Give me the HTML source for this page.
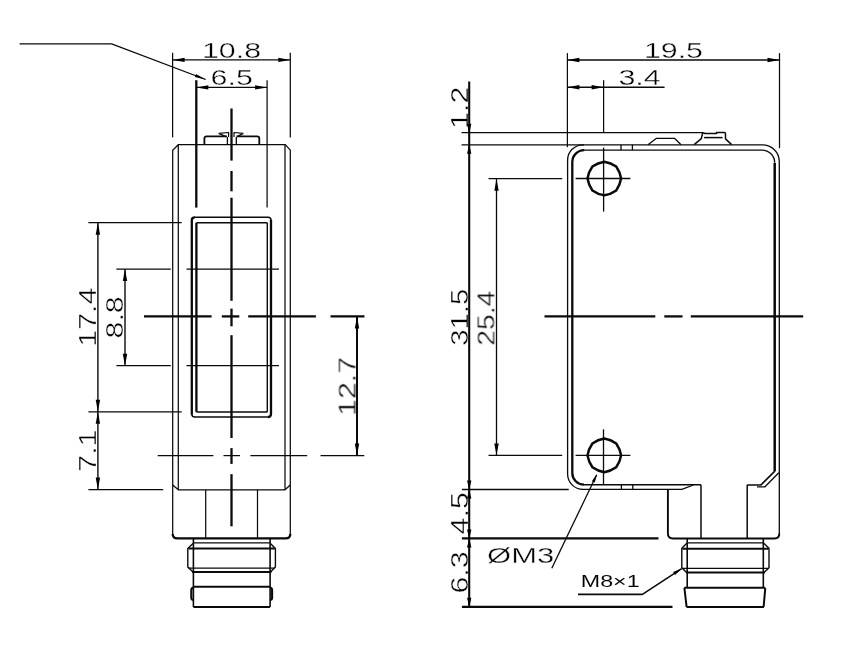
<!DOCTYPE html>
<html><head><meta charset="utf-8"><title>Dimension drawing</title>
<style>
html,body{margin:0;padding:0;background:#fff;}
svg{display:block;}
.g line,.g path,.g circle{stroke:#0a0a0a;fill:none;stroke-linecap:butt;stroke-linejoin:round;}
.t{opacity:0.999}
.t text{font-family:"Liberation Sans",sans-serif;fill:#000;stroke:#fff;paint-order:fill stroke;}
</style></head><body>
<svg width="845" height="645" viewBox="0 0 845 645">
<rect width="845" height="645" fill="#fff"/>
<g class="t">
<text transform="translate(231.5,58.2) scale(1.38,1)" font-size="22" text-anchor="middle" stroke-width="0.35">10.8</text>
<text transform="translate(231.7,85.2) scale(1.38,1)" font-size="22" text-anchor="middle" stroke-width="0.35">6.5</text>
<text transform="translate(96,317.2) rotate(-90) scale(1.38,1.05)" font-size="22" text-anchor="middle" stroke-width="0.35">17.4</text>
<text transform="translate(123,317.4) rotate(-90) scale(1.38,1.05)" font-size="22" text-anchor="middle" stroke-width="0.35">8.8</text>
<text transform="translate(96,450.6) rotate(-90) scale(1.38,1.05)" font-size="22" text-anchor="middle" stroke-width="0.35">7.1</text>
<text transform="translate(355.8,386.4) rotate(-90) scale(1.38,1.05)" font-size="22" text-anchor="middle" stroke-width="0.35">12.7</text>
<text transform="translate(673.4,58.4) scale(1.38,1)" font-size="22" text-anchor="middle" stroke-width="0.35">19.5</text>
<text transform="translate(639.5,85.3) scale(1.38,1)" font-size="22" text-anchor="middle" stroke-width="0.35">3.4</text>
<text transform="translate(468,107.8) rotate(-90) scale(1.38,1.05)" font-size="22" text-anchor="middle" stroke-width="0.35">1.2</text>
<text transform="translate(468,317.2) rotate(-90) scale(1.33,1.05)" font-size="22" text-anchor="middle" stroke-width="0.35">31.5</text>
<text transform="translate(468,513.3) rotate(-90) scale(1.38,1.05)" font-size="22" text-anchor="middle" stroke-width="0.35">4.5</text>
<text transform="translate(468,572.5) rotate(-90) scale(1.38,1.05)" font-size="22" text-anchor="middle" stroke-width="0.35">6.3</text>
<text transform="translate(494.6,318.2) rotate(-90) scale(1.28,1.05)" font-size="22" text-anchor="middle" stroke-width="0.35">25.4</text>
<text transform="translate(520.7,563.2) scale(1.41,1)" font-size="22" text-anchor="middle" stroke-width="0.35">ØM3</text>
<text transform="translate(610.2,587.2) scale(1.37,1)" font-size="17" text-anchor="middle" stroke-width="0.05">M8×1</text>
</g>
<g class="g">
<path d="M19.6,43.8 H111.6 L205.7,79.5" stroke-width="1.3" />
<polygon points="205.7,79.5 194.8,77.1 196.0,74.1" fill="#000" stroke="none" />
<line x1="172.6" y1="52.8" x2="172.6" y2="137.4" stroke-width="1.25" />
<line x1="290.3" y1="52.8" x2="290.3" y2="137.4" stroke-width="1.25" />
<line x1="172.6" y1="59.9" x2="290.3" y2="59.9" stroke-width="1.4" />
<polygon points="172.6,59.9 184.6,57.7 184.6,62.1" fill="#000" stroke="none" />
<polygon points="290.3,59.9 278.3,62.1 278.3,57.7" fill="#000" stroke="none" />
<line x1="196.3" y1="80.2" x2="196.3" y2="207.6" stroke-width="2.3" />
<line x1="267.1" y1="80.2" x2="267.1" y2="207.6" stroke-width="1.25" />
<line x1="196.3" y1="87.4" x2="267.1" y2="87.4" stroke-width="1.4" />
<polygon points="196.3,87.4 208.3,85.2 208.3,89.6" fill="#000" stroke="none" />
<polygon points="267.1,87.4 255.1,89.6 255.1,85.2" fill="#000" stroke="none" />
<line x1="231.5" y1="108.5" x2="231.5" y2="160.6" stroke-width="2.3" />
<line x1="231.5" y1="171" x2="231.5" y2="191.3" stroke-width="2.3" />
<line x1="231.5" y1="197.7" x2="231.5" y2="300.8" stroke-width="2.3" />
<line x1="231.5" y1="308.6" x2="231.5" y2="326.3" stroke-width="2.3" />
<line x1="231.5" y1="335.2" x2="231.5" y2="438" stroke-width="2.3" />
<line x1="231.5" y1="448.1" x2="231.5" y2="463.9" stroke-width="2.3" />
<line x1="231.5" y1="474.2" x2="231.5" y2="526.3" stroke-width="2.3" />
<line x1="144" y1="316.4" x2="211.6" y2="316.4" stroke-width="2.3" />
<line x1="221.8" y1="316.4" x2="239.3" y2="316.4" stroke-width="2.3" />
<line x1="248.2" y1="316.4" x2="315.9" y2="316.4" stroke-width="2.3" />
<line x1="330.5" y1="316.4" x2="364.5" y2="316.4" stroke-width="2.3" />
<line x1="157.7" y1="455.6" x2="213.4" y2="455.6" stroke-width="1.25" />
<line x1="223.5" y1="455.6" x2="240" y2="455.6" stroke-width="1.25" />
<line x1="250.4" y1="455.6" x2="307.2" y2="455.6" stroke-width="1.25" />
<line x1="320.5" y1="455.6" x2="364.3" y2="455.6" stroke-width="1.25" />
<path d="M172.7,534.5 V150.2 L178.3,144.7 H285.3 L290.3,150.2 V534.5" stroke-width="1.25" />
<line x1="178.3" y1="144.7" x2="178.3" y2="489.8" stroke-width="1.25" />
<line x1="285.0" y1="144.7" x2="285.0" y2="489.8" stroke-width="1.25" />
<path d="M172.7,485 L178.3,489.8 H285 L290.3,485" stroke-width="1.3" />
<path d="M172.7,534 Q172.7,538.4 177.5,538.4 H285.5 Q290.3,538.4 290.3,534" stroke-width="2.3" />
<line x1="205.7" y1="489.8" x2="205.7" y2="538.4" stroke-width="1.25" />
<line x1="257.5" y1="489.8" x2="257.5" y2="538.4" stroke-width="1.25" />
<path d="M191.8,414.5 V220.3 Q191.8,217.3 194.8,217.3" stroke-width="2.3" />
<path d="M194.3,217.3 H268 Q271,217.3 271,220.3" stroke-width="1.5" />
<path d="M271,220 V414 Q271,417 268,417" stroke-width="2.3" />
<path d="M268.5,417 H194.8 Q191.8,417 191.8,414" stroke-width="1.5" />
<line x1="196.4" y1="222.8" x2="196.4" y2="411.9" stroke-width="2.3" />
<line x1="267.3" y1="222.8" x2="267.3" y2="411.9" stroke-width="1.4" />
<line x1="196.4" y1="222.8" x2="267.3" y2="222.8" stroke-width="1.5" />
<line x1="196.4" y1="411.9" x2="267.3" y2="411.9" stroke-width="1.5" />
<line x1="88.4" y1="222.7" x2="181.7" y2="222.7" stroke-width="1.25" />
<line x1="88.4" y1="411.8" x2="181.7" y2="411.8" stroke-width="1.25" />
<line x1="97.9" y1="222.7" x2="97.9" y2="489.6" stroke-width="1.4" />
<polygon points="97.9,222.7 100.1,234.7 95.7,234.7" fill="#000" stroke="none" />
<polygon points="97.9,411.8 95.7,399.8 100.1,399.8" fill="#000" stroke="none" />
<polygon points="97.9,411.8 100.1,423.8 95.7,423.8" fill="#000" stroke="none" />
<polygon points="97.9,489.6 95.7,477.6 100.1,477.6" fill="#000" stroke="none" />
<line x1="116.4" y1="269.1" x2="170.8" y2="269.1" stroke-width="1.25" />
<line x1="116.4" y1="365.7" x2="170.8" y2="365.7" stroke-width="1.25" />
<line x1="186.5" y1="269.1" x2="279" y2="269.1" stroke-width="1.25" />
<line x1="186.5" y1="365.7" x2="279" y2="365.7" stroke-width="1.25" />
<line x1="125" y1="269.1" x2="125" y2="365.7" stroke-width="1.4" />
<polygon points="125.0,269.1 127.2,281.1 122.8,281.1" fill="#000" stroke="none" />
<polygon points="125.0,365.7 122.8,353.7 127.2,353.7" fill="#000" stroke="none" />
<line x1="88.4" y1="489.6" x2="163.2" y2="489.6" stroke-width="1.25" />
<line x1="357" y1="316.4" x2="357" y2="455.6" stroke-width="2.0" />
<polygon points="357.0,316.4 359.2,328.4 354.8,328.4" fill="#000" stroke="none" />
<polygon points="357.0,455.6 354.8,443.6 359.2,443.6" fill="#000" stroke="none" />
<path d="M204.4,144.5 V138.6 Q204.4,136.4 206.6,136.4 H227 M236.5,136.4 H257 Q259.3,136.4 259.3,138.6 V144.5" stroke-width="1.8" />
<line x1="227.4" y1="137" x2="227.4" y2="144.5" stroke-width="1.3" />
<line x1="236.3" y1="137" x2="236.3" y2="144.5" stroke-width="1.3" />
<path d="M218.6,133.4 L228.6,132.5 V137 M218.6,133.4 L226,136.6 M243.4,133.4 L234,132.5 V137 M243.4,133.4 L237,136.6" stroke-width="1.2" />
<line x1="193.4" y1="538.4" x2="193.4" y2="606.9" stroke-width="1.6" />
<line x1="270.1" y1="538.4" x2="270.1" y2="606.9" stroke-width="1.6" />
<line x1="193.4" y1="542.8" x2="270.1" y2="542.8" stroke-width="1.2" />
<path d="M193,543.4 L187.8,548.4 V567 L193,572 M270.4,543.4 L275.4,548.4 V567 L270.4,572" stroke-width="1.4" />
<line x1="188.5" y1="548.4" x2="274.8" y2="548.4" stroke-width="2.0" />
<line x1="188.5" y1="568.2" x2="274.8" y2="568.2" stroke-width="1.2" />
<line x1="192" y1="571.9" x2="271.5" y2="571.9" stroke-width="2.0" />
<line x1="193.4" y1="586.8" x2="270.1" y2="586.8" stroke-width="2.0" />
<path d="M193.4,587.5 Q191.3,588 191.3,590 V598 Q191.5,600 193.4,600 M270.1,587.5 Q272.1,588 272.1,590 V598 Q272,600 270.1,600" stroke-width="2.1" />
<line x1="193.4" y1="606.9" x2="270.1" y2="606.9" stroke-width="2.0" />
<line x1="567.4" y1="53.1" x2="567.4" y2="147.2" stroke-width="1.25" />
<line x1="779.5" y1="53.1" x2="779.5" y2="148.2" stroke-width="1.25" />
<line x1="567.4" y1="60" x2="779.5" y2="60" stroke-width="1.4" />
<polygon points="567.4,60.0 579.4,57.8 579.4,62.2" fill="#000" stroke="none" />
<polygon points="779.5,60.0 767.5,62.2 767.5,57.8" fill="#000" stroke="none" />
<line x1="603.6" y1="80.2" x2="603.6" y2="132.3" stroke-width="1.25" />
<line x1="567.4" y1="87.3" x2="664.6" y2="87.3" stroke-width="1.4" />
<polygon points="567.4,87.3 579.4,85.1 579.4,89.5" fill="#000" stroke="none" />
<polygon points="603.6,87.3 591.6,89.5 591.6,85.1" fill="#000" stroke="none" />
<line x1="469.2" y1="81.4" x2="469.2" y2="606.7" stroke-width="2.1" />
<line x1="461.5" y1="132.7" x2="702.7" y2="132.7" stroke-width="1.3" />
<line x1="461.5" y1="144.8" x2="584" y2="144.8" stroke-width="1.3" />
<line x1="461.9" y1="489.5" x2="568.7" y2="489.5" stroke-width="1.3" />
<line x1="461.9" y1="538.4" x2="658.5" y2="538.4" stroke-width="2.3" />
<line x1="461.9" y1="606.8" x2="672.5" y2="606.8" stroke-width="2.3" />
<polygon points="469.2,132.7 467.0,123.7 471.4,123.7" fill="#000" stroke="none" />
<polygon points="469.2,144.8 471.4,153.8 467.0,153.8" fill="#000" stroke="none" />
<polygon points="469.2,489.5 467.0,480.5 471.4,480.5" fill="#000" stroke="none" />
<polygon points="469.2,489.5 471.4,498.5 467.0,498.5" fill="#000" stroke="none" />
<polygon points="469.2,538.4 467.0,529.4 471.4,529.4" fill="#000" stroke="none" />
<polygon points="469.2,538.4 471.4,547.4 467.0,547.4" fill="#000" stroke="none" />
<polygon points="469.2,606.8 467.0,597.8 471.4,597.8" fill="#000" stroke="none" />
<line x1="488.5" y1="178.7" x2="562.2" y2="178.7" stroke-width="1.25" />
<line x1="488.5" y1="455.4" x2="562.2" y2="455.4" stroke-width="1.25" />
<line x1="496.5" y1="178.7" x2="496.5" y2="455.4" stroke-width="1.3" />
<polygon points="496.5,178.7 498.7,190.7 494.3,190.7" fill="#000" stroke="none" />
<polygon points="496.5,455.4 494.3,443.4 498.7,443.4" fill="#000" stroke="none" />
<path d="M583,144.8 H762.5 A16.8,16.8 0 0 1 779.3,161.6 V534" stroke-width="1.3" />
<path d="M567.6,474 V160.2 A15.4,15.4 0 0 1 583,144.8" stroke-width="1.3" />
<path d="M567.6,474 A15.4,15.4 0 0 0 583,489.4 H681.8 L693.5,485" stroke-width="1.3" />
<path d="M572.3,473 V162 A11.9,11.9 0 0 1 584.2,150.1" stroke-width="2.3" />
<path d="M584,150.1 H762 A12.7,12.7 0 0 1 774.7,162.8" stroke-width="1.4" />
<path d="M774.7,163 V470.9" stroke-width="2.5" />
<path d="M572.3,473 A11.7,11.7 0 0 0 584,484.7" stroke-width="2.3" />
<path d="M584,484.7 H701" stroke-width="1.4" />
<line x1="621" y1="144.8" x2="621" y2="150.1" stroke-width="1.3" />
<line x1="621.4" y1="484.7" x2="621.4" y2="489.5" stroke-width="1.3" />
<line x1="632.4" y1="144.8" x2="632.4" y2="150.1" stroke-width="1.3" />
<line x1="632.8" y1="484.7" x2="632.8" y2="489.5" stroke-width="1.3" />
<path d="M667.9,489.5 V533.5 Q667.9,538.5 673,538.5 H774.5 Q779.3,538.5 779.3,533.5" stroke-width="1.9" />
<line x1="701" y1="484.7" x2="701" y2="538.5" stroke-width="1.5" />
<line x1="747.2" y1="484.7" x2="747.2" y2="538.5" stroke-width="1.5" />
<path d="M747.2,484.9 H761 L775.1,470.9" stroke-width="1.5" />
<path d="M757,486.8 H765 L778.8,472.8" stroke-width="1.3" />
<path d="M648,144.8 L656.5,138.3 H674.5 L681,144.8" stroke-width="1.3" />
<path d="M694.2,144.6 L701.3,138.7 L702.7,132.6 L705,133.5 H716.5 V132.5 H724.3 Q725.5,132.5 725.5,133.7 V138.9 L731.6,144.6" stroke-width="1.5" />
<line x1="704.1" y1="137.6" x2="722.6" y2="137.6" stroke-width="1.5" />
<path d="M621.1,178.5 A28,28 0 0 1 616.2,190.4 A28,28 0 0 1 604.3,195.3 A28,28 0 0 1 592.4,190.4 A28,28 0 0 1 587.5,178.5 A28,28 0 0 1 592.4,166.6 A28,28 0 0 1 604.3,161.7 A28,28 0 0 1 616.2,166.6 A28,28 0 0 1 621.1,178.5Z" stroke-width="2.5" stroke-linejoin="round"/>
<line x1="575.6" y1="178.5" x2="630.4" y2="178.5" stroke-width="1.3" />
<path d="M621.1,455.4 A28,28 0 0 1 616.2,467.3 A28,28 0 0 1 604.3,472.2 A28,28 0 0 1 592.4,467.3 A28,28 0 0 1 587.5,455.4 A28,28 0 0 1 592.4,443.5 A28,28 0 0 1 604.3,438.6 A28,28 0 0 1 616.2,443.5 A28,28 0 0 1 621.1,455.4Z" stroke-width="2.5" stroke-linejoin="round"/>
<line x1="575.6" y1="455.4" x2="630.4" y2="455.4" stroke-width="1.3" />
<line x1="603.6" y1="147.6" x2="603.6" y2="211.6" stroke-width="1.3" />
<line x1="603.5" y1="429.3" x2="603.5" y2="484.5" stroke-width="1.3" />
<line x1="544.5" y1="316.4" x2="655.3" y2="316.4" stroke-width="2.3" />
<line x1="664.3" y1="316.4" x2="682.5" y2="316.4" stroke-width="2.3" />
<line x1="690.8" y1="316.4" x2="803.2" y2="316.4" stroke-width="2.3" />
<line x1="596.6" y1="475" x2="551.8" y2="568.2" stroke-width="1.3" />
<polygon points="597.2,473.8 594.8,482.6 591.8,481.2" fill="#000" stroke="none" />
<path d="M578,594.4 H642.4 L681.7,568.6" stroke-width="1.6" />
<polygon points="681.7,568.6 675.1,575.0 673.2,572.1" fill="#000" stroke="none" />
<line x1="687.2" y1="538.5" x2="687.2" y2="587.8" stroke-width="1.6" />
<line x1="763.3" y1="538.5" x2="763.3" y2="587.8" stroke-width="1.6" />
<line x1="687.2" y1="542.8" x2="763.3" y2="542.8" stroke-width="1.2" />
<path d="M686.8,543.3 L681.8,548.3 V567.8 L686.8,572.8 M763.8,543.3 L769,548.3 V567.8 L763.8,572.8" stroke-width="1.4" />
<line x1="682.4" y1="548.7" x2="768.4" y2="548.7" stroke-width="2.0" />
<line x1="682.4" y1="568.4" x2="768.4" y2="568.4" stroke-width="1.2" />
<line x1="686" y1="572.5" x2="765" y2="572.5" stroke-width="2.0" />
<line x1="684.2" y1="587.8" x2="765.3" y2="587.8" stroke-width="2.0" />
<path d="M684.4,588 L686.6,606.9 M765.3,588 L763.6,606.9" stroke-width="2.0" />
<line x1="686.5" y1="606.9" x2="764" y2="606.9" stroke-width="2.0" />
</g>
</svg>
</body></html>
